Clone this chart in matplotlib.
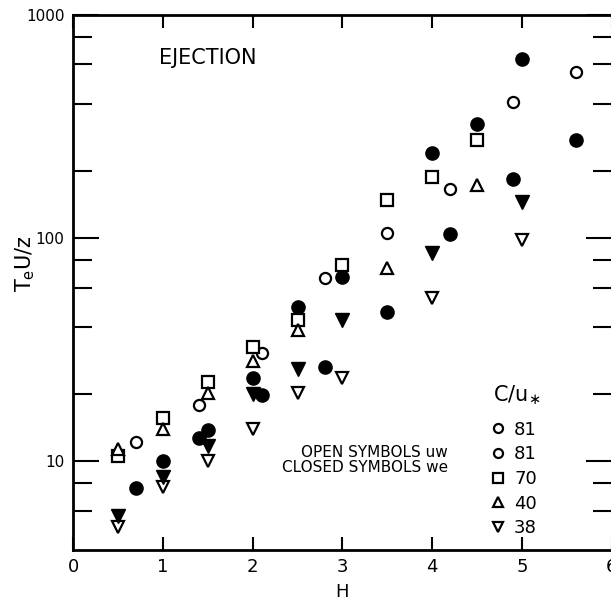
# ejection time scale vs H, open = uw, closed = we
import matplotlib.pyplot as plt
from matplotlib.lines import Line2D
from matplotlib.ticker import FixedLocator, NullFormatter

# C/u* = 81, first set (H step 0.7)
h_circ_a = [0.7, 1.4, 2.1, 2.8, 3.5, 4.2, 4.9, 5.6]
circ_a_uw = [12.2, 17.8, 30.5, 66, 105, 166, 407, 555]
circ_a_we = [7.6, 12.7, 19.8, 26.4, 46.6, 104, 184, 275]
# C/u* = 81, second set (H step 0.5)
h_circ_b = [1.0, 1.5, 2.0, 2.5, 3.0, 4.0, 4.5, 5.0]
circ_b_we = [10.0, 13.8, 23.5, 49.1, 66.8, 240, 324, 635]
# C/u* = 70
h_sq = [0.5, 1.0, 1.5, 2.0, 2.5, 3.0, 3.5, 4.0, 4.5]
sq_uw = [10.6, 15.7, 22.6, 32.5, 42.9, 75.7, 148, 188, 275]
# C/u* = 40
h_tri = [0.5, 1.0, 1.5, 2.0, 2.5, 3.5, 4.5]
tri_uw = [11.4, 13.9, 20.2, 28.1, 38.6, 73.3, 173]
# C/u* = 38
h_dn = [0.5, 1.0, 1.5, 2.0, 2.5, 3.0, 4.0, 5.0]
dn_uw = [5.06, 7.65, 10.0, 13.9, 20.2, 23.6, 53.8, 98]
dn_we = [5.7, 8.5, 11.7, 20.0, 25.9, 42.9, 85.7, 145]

legend_labels = ['81', '81', '70', '40', '38']
x_ticks = [0, 1, 2, 3, 4, 5, 6]
y_major = [10, 100, 1000]
y_minor = [6, 8, 20, 40, 60, 80, 200, 400, 600, 800]

fig = plt.figure(figsize=(6.11, 6.04), dpi=100)
ax = fig.add_axes([0.1195, 0.0894, 0.882, 0.8858])

op = dict(ls='none', mfc='white', mec='black', mew=1.6, color='black')
cl = dict(ls='none', mfc='black', mec='black', color='black')

ax.plot(h_circ_a, circ_a_uw, 'o', ms=8, **op)
ax.plot(h_circ_a, circ_a_we, 'o', ms=9.5, **cl)
ax.plot(h_circ_b, circ_b_we, 'o', ms=9.5, **cl)
ax.plot(h_sq, sq_uw, 's', ms=8, **op)
ax.plot(h_tri, tri_uw, '^', ms=8.5, **op)
ax.plot(h_dn, dn_uw, 'v', ms=8.5, **op)
ax.plot(h_dn, dn_we, 'v', ms=9.5, **cl)

ax.set_yscale('log')
ax.set_xlim(0, 6)
ax.set_ylim(4.0, 1000)
ax.set_xticks(x_ticks)
ax.set_xticklabels([str(t) for t in x_ticks])
ax.yaxis.set_major_locator(FixedLocator(y_major))
ax.yaxis.set_minor_locator(FixedLocator(y_minor))
ax.yaxis.set_minor_formatter(NullFormatter())
ax.set_yticklabels([str(t) for t in y_major])

ax.tick_params(axis='x', which='major', direction='in', length=9.5, width=1.5,
               top=True, labelsize=13, pad=6)
ax.tick_params(axis='y', which='major', direction='in', length=19, width=1.5,
               right=True, labelsize=11, pad=6)
ax.tick_params(axis='y', which='minor', direction='in', length=13.5, width=1.5,
               right=True)
for s in ax.spines.values():
    s.set_linewidth(2)
# right edge of the original scan is cut off, only the ticks show
ax.spines['right'].set_visible(False)

ax.set_xlabel('H', fontsize=13, labelpad=5)
ax.set_ylabel('T$_\\mathregular{e}$U/z', fontsize=15)
ax.yaxis.set_label_coords(-0.066, 0.536)

ax.text(0.16, 0.92, 'EJECTION', transform=ax.transAxes, fontsize=15,
        va='center', ha='left')
ax.text(0.696, 0.168, 'OPEN SYMBOLS uw\nCLOSED SYMBOLS we',
        transform=ax.transAxes, fontsize=11, ha='right', va='center',
        linespacing=1.05)

# legend title drawn separately to get the wider gap of the original
ax.text(0.78, 0.29, 'C/u$_{\\ast}$', transform=ax.transAxes, fontsize=15,
        ha='left', va='center')
handles = [
    Line2D([], [], marker='o', ms=6.5, **op),
    Line2D([], [], marker='o', ms=6.5, **op),
    Line2D([], [], marker='s', ms=6.5, **op),
    Line2D([], [], marker='^', ms=6.5, **op),
    Line2D([], [], marker='v', ms=6.5, **op),
]
ax.legend(handles, legend_labels, loc='upper left',
          bbox_to_anchor=(0.775, 0.242), frameon=False, fontsize=13,
          handlelength=0.8, handletextpad=0.5,
          labelspacing=0.37, borderpad=0, borderaxespad=0)

fig.savefig('out.png', dpi=100)
